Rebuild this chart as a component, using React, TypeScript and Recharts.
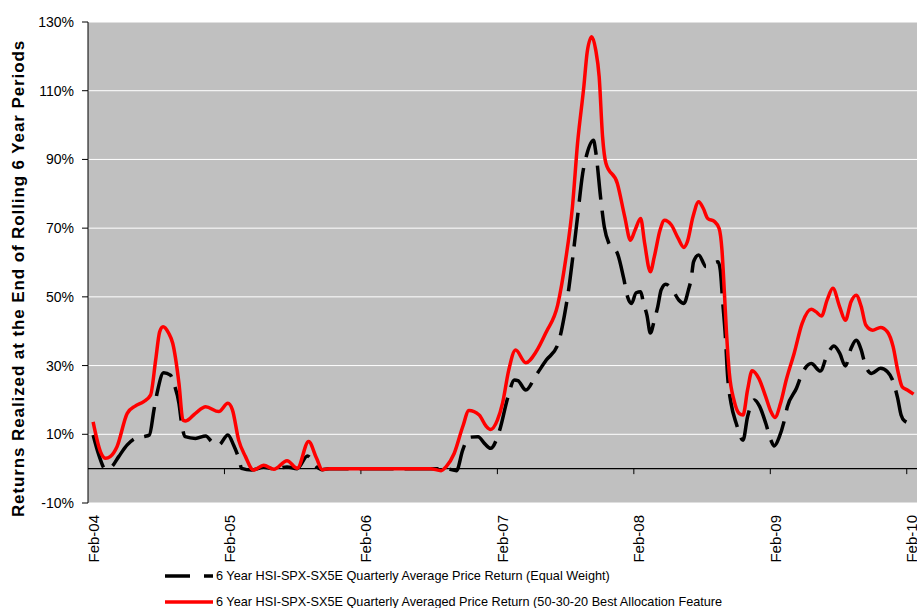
import React from 'react'
import { LineChart, Line, XAxis, YAxis, CartesianGrid, ReferenceLine, Legend } from 'recharts'

// months since Feb-04 for each point, and the value (%) at that point
const eqMonths = [
  0.45, 0.95, 1.55, 2.1, 2.7, 3.45, 4.15, 4.9, 5.4, 5.8, 6.1, 6.65, 7.25, 7.6, 8.0, 8.25, 8.55, 9.45, 10.35, 10.9,
  11.5, 12.3, 12.8, 13.3, 13.5, 14.4, 15.45, 16.4, 17.5, 18.4, 19.3, 20.1, 20.6, 21.2, 31.5, 32.4, 32.95, 33.5, 34.3, 34.9,
  35.4, 36.2, 36.9, 37.5, 37.8, 38.5, 39.4, 40.3, 41.3, 41.9, 42.3, 42.6, 43.05, 43.5, 43.85, 44.45, 44.65, 45.1, 45.4, 45.8,
  46.55, 47.1, 47.45, 47.8, 48.2, 48.6, 48.85, 49.15, 49.45, 49.8, 50.1, 50.4, 50.8, 51.4, 51.95, 52.4, 52.8, 53.05, 53.25, 53.7,
  54.35, 54.9, 55.4, 55.6, 55.8, 56.05, 56.25, 56.55, 57.0, 57.6, 58.0, 58.6, 59.05, 59.6, 60.05, 60.35, 60.8, 61.2, 61.5, 62.3,
  62.8, 63.6, 64.4, 65.0, 65.6, 66.1, 66.6, 67.1, 67.55, 68.0, 68.35, 68.9, 69.7, 70.3, 70.75, 71.2, 71.5, 71.8, 72.5,
]
const eqValues = [
  9.8, 4.0, -0.2, 0.6, 3.5, 6.9, 8.8, 9.3, 9.8, 17.1, 22.4, 27.9, 27.2, 24.3, 19.0, 12.7, 9.3, 8.8, 9.5, 7.8,
  6.9, 9.8, 6.9, 2.5, 0.1, -0.4, 0.4, -0.1, 0.5, 0, 3.7, 0.5, -0.3, 0, 0, -0.6, 5.4, 9.1, 9.3, 7.2,
  5.9, 11.2, 20.5, 25.8, 25.6, 22.9, 27.2, 31.6, 36.0, 44.7, 52.9, 60.7, 73.3, 85.9, 91.3, 95.6, 92.2, 78.2, 70.4, 65.6,
  62.7, 55.5, 50.0, 48.1, 51.2, 51.5, 48.1, 44.7, 39.5, 43.2, 47.1, 52.0, 53.7, 52.0, 49.1, 48.1, 52.0, 55.4, 60.2, 62.2,
  58.8, 59.7, 60.2, 57.8, 49.1, 38.4, 26.7, 19.0, 13.2, 8.3, 15.1, 20.0, 18.2, 13.2, 8.3, 6.6, 9.3, 13.6, 18.0, 23.4,
  27.7, 30.6, 28.4, 33.1, 35.7, 33.6, 29.9, 35.0, 37.4, 34.5, 30.2, 27.7, 29.2, 28.2, 25.8, 20.5, 15.6, 13.9, 13.0,
]

const baMonths = [
  0.45, 1.1, 1.55, 1.95, 2.55, 3.45, 4.15, 4.9, 5.5, 5.95, 6.3, 6.6, 7.1, 7.45, 8.0, 8.35, 8.6, 9.45, 10.35, 11.5,
  12.3, 12.7, 13.25, 13.85, 14.55, 15.45, 16.35, 17.5, 18.4, 19.4, 20.1, 20.6, 21.2, 30.1, 31.05, 31.5, 32.2, 32.95, 33.5, 34.4,
  35.0, 35.4, 36.0, 36.45, 37.0, 37.6, 38.5, 39.4, 40.3, 41.3, 42.0, 42.6, 43.05, 43.6, 43.9, 44.3, 44.65, 44.95, 45.25, 45.55,
  46.55, 47.2, 47.7, 48.1, 48.6, 48.95, 49.45, 49.8, 50.3, 50.7, 51.3, 51.9, 52.4, 52.7, 53.2, 53.7, 54.1, 54.5, 55.1, 55.5,
  55.75, 55.95, 56.15, 56.4, 56.8, 57.25, 57.6, 58.0, 58.4, 59.0, 59.6, 60.05, 60.4, 60.9, 61.4, 62.1, 62.8, 63.6, 64.0, 64.5,
  65.0, 65.5, 66.1, 66.6, 67.1, 67.55, 68.0, 68.4, 69.0, 69.7, 70.3, 70.8, 71.2, 71.6, 72.05, 72.6,
]
const baValues = [
  13.6, 4.9, 3.0, 3.5, 6.4, 16.1, 18.2, 19.5, 21.4, 31.6, 39.8, 41.3, 39.4, 36.5, 24.8, 14.1, 13.9, 16.1, 18.0, 16.6,
  19.0, 17.1, 8.3, 3.5, -0.4, 1.0, -0.2, 2.3, 0.1, 7.9, 3.0, -0.3, 0, 0, -0.6, 0.6, 4.4, 12.2, 16.9, 15.6,
  12.4, 11.4, 14.1, 19.0, 28.7, 34.5, 30.8, 34.0, 39.8, 47.6, 60.7, 76.2, 94.7, 111.1, 121.3, 125.7, 121.8, 114.1, 96.6, 88.8,
  83.0, 73.3, 66.5, 69.4, 72.8, 65.6, 57.3, 61.7, 69.4, 72.3, 70.9, 67.0, 64.4, 66.0, 73.3, 77.7, 75.8, 72.8, 71.9, 69.9,
  63.6, 52.0, 39.4, 27.7, 20.0, 16.1, 15.6, 22.9, 28.5, 26.2, 20.9, 16.6, 14.9, 19.0, 25.8, 33.6, 42.3, 46.4, 45.7, 44.4,
  49.1, 52.5, 47.1, 43.2, 48.6, 50.5, 47.1, 41.8, 40.3, 41.1, 39.8, 35.5, 28.7, 23.8, 22.9, 21.7,
]

const tickMonths = [0, 12, 24, 36, 48, 60, 72]
const tickLabels = ['Feb-04', 'Feb-05', 'Feb-06', 'Feb-07', 'Feb-08', 'Feb-09', 'Feb-10']
const yTicks = [-10, 10, 30, 50, 70, 90, 110, 130]

const eqName = '6 Year HSI-SPX-SX5E Quarterly Average Price Return (Equal Weight)'
const baName = '6 Year HSI-SPX-SX5E Quarterly Averaged Price Return (50-30-20 Best Allocation Feature'
const yTitle = 'Returns Realized at the End of Rolling 6 Year Periods'

const eqData = eqMonths.map((m, i) => ({ m, v: eqValues[i] }))
const baData = baMonths.map((m, i) => ({ m, v: baValues[i] }))

const FebTick = ({ x, y, payload }: any) => {
  const i = tickMonths.indexOf(payload.value)
  const tx = x + 5
  const ty = y + 4
  return (
    <text x={tx} y={ty} transform={`rotate(-90 ${tx} ${ty})`} textAnchor="end" dominantBaseline="central" fontSize={15} fill="#000">
      {tickLabels[i]}
    </text>
  )
}

const YTitle = (props: any) => {
  const vb = props.viewBox
  const cx = vb.x + 18
  const cy = vb.y + vb.height / 2 + 16
  return (
    <text x={cx} y={cy} transform={`rotate(-90 ${cx} ${cy})`} textAnchor="middle" dominantBaseline="central"
      fontSize={17} fontWeight="bold" letterSpacing={0.9} fill="#000">
      {yTitle}
    </text>
  )
}

const LegendBox = ({ payload }: any) => (
  <div style={{ fontSize: 12.7, color: '#000' }}>
    {(payload || []).map((p: any) => (
      <div key={p.value} style={{ display: 'flex', alignItems: 'center', height: 26, whiteSpace: 'nowrap' }}>
        <svg width={48} height={10} style={{ marginRight: 3 }}>
          <line x1={0} y1={5} x2={48} y2={5} stroke={p.color} strokeWidth={3.5}
            strokeDasharray={p.value === eqName ? '25 14' : undefined} />
        </svg>
        <span>{p.value}</span>
      </div>
    ))}
  </div>
)

export default function App() {
  return (
    <div style={{ position: 'absolute', left: 0, top: 0, width: 917, height: 608, background: '#fff', fontFamily: '"Liberation Sans", Arial, sans-serif' }}>
      <LineChart width={917} height={608} margin={{ top: 22, right: 0, bottom: 0, left: 0 }}>
        <CartesianGrid horizontal={true} vertical={false} stroke="#FFFFFF" fill="#C0C0C0" />
        <XAxis type="number" dataKey="m" domain={[0, 72.9]} ticks={tickMonths} interval={0}
          axisLine={false} tickLine={false} height={105} tick={<FebTick />} />
        <YAxis type="number" domain={[-10, 130]} ticks={yTicks} interval={0} width={88}
          tickFormatter={(v: number) => `${v}%`} axisLine={{ stroke: '#000' }} tickLine={{ stroke: '#000' }}
          tickSize={6} tickMargin={8} tick={{ fill: '#000', fontSize: 14 }}
          label={{ content: <YTitle /> }} />
        <ReferenceLine y={0} stroke="#000" strokeWidth={1.2} />
        {tickMonths.slice(1).map((m) => (
          <ReferenceLine key={m} segment={[{ x: m, y: 0 }, { x: m, y: -1.6 }]} stroke="#000" strokeWidth={1} />
        ))}
        <Legend layout="horizontal" verticalAlign="middle" align="center" content={<LegendBox />}
          wrapperStyle={{ left: 165, top: 563, width: 'auto' }} />
        <Line data={eqData} dataKey="v" name={eqName} type="monotone" stroke="#000000" strokeWidth={3.5}
          strokeDasharray="34 11" dot={false} isAnimationActive={false} />
        <Line data={baData} dataKey="v" name={baName} type="monotone" stroke="#FF0000" strokeWidth={3.5}
          dot={false} isAnimationActive={false} />
      </LineChart>
    </div>
  )
}
